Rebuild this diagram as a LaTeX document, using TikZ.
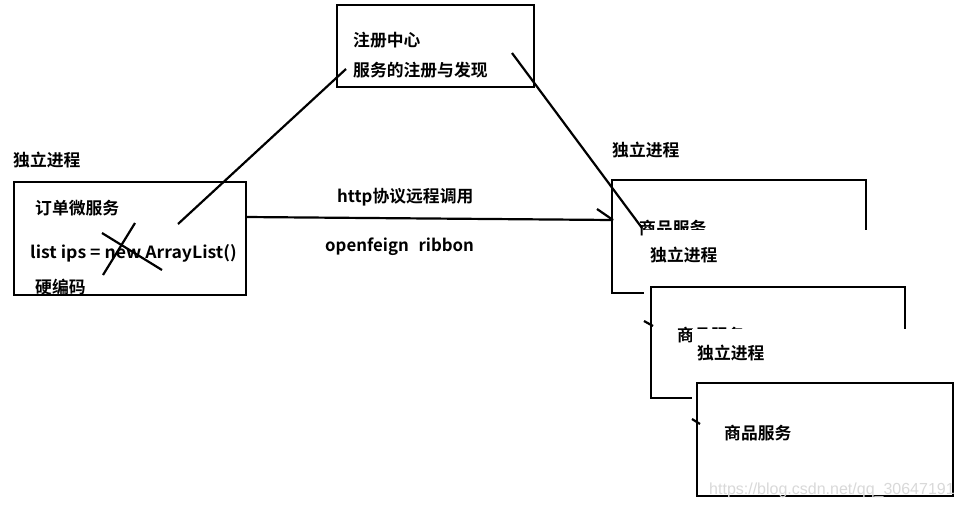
\documentclass[tikz,border=0pt]{standalone}
\usepackage{fontspec}
\setmainfont{Noto Sans CJK SC}[BoldFont={Noto Sans CJK SC Bold}]
\newfontfamily\wmfont{Liberation Sans}
\begin{document}
\begin{tikzpicture}[x=1pt,y=-1pt,
  pen/.style={line width=2.2pt},
  boxnode/.style={draw,line width=2.2pt,inner sep=0pt,outer sep=0pt},
  txt/.style={anchor=west,inner sep=0pt,font=\fontsize{16.8}{18}\selectfont\bfseries},
  paste/.style={fill=white,draw=none}]
\useasboundingbox[fill=white] (0,0) rectangle (961,507);
% registry
\node[boxnode,minimum width=197pt,minimum height=82pt] (reg) at (435.5,46) {};
\node[txt] (regt1) at (353,40) {注册中心};
\node[txt] (regt2) at (353,70) {服务的注册与发现};
% order service
\node[txt] (lbl0) at (13,160) {独立进程};
\node[boxnode,minimum width=232pt,minimum height=113pt] (order) at (130,238.5) {};
\node[txt] (ordt1) at (35,208) {订单微服务};
\node[txt] (ordt2) at (30,253) {\scalebox{1.05}[1]{list ips = new ArrayList()}};
\node[txt] (ordt3) at (35,287) {硬编码};
\coordinate (xa1) at (102,233); \coordinate (xa2) at (162,270);
\coordinate (xb1) at (135,223); \coordinate (xb2) at (103,275);
\draw[pen] (xa1) -- (xa2);
\draw[pen] (xb1) -- (xb2);
% call arrow
\coordinate (a0) at (246,217); \coordinate (a1) at (613,220); \coordinate (ah) at (597,209);
\draw[pen] (a0) -- (a1);
\draw[pen] (ah) -- (a1);
\node[txt] (http) at (337,197) {http协议远程调用};
\node[txt] (feign) at (325,247) {openfeign\hspace{6pt} ribbon};
% product 1
\node[txt] (lbl1) at (612,150) {独立进程};
\node[boxnode,minimum width=254pt,minimum height=113pt] (p1) at (739,236.5) {};
\node[txt] (p1t) at (639,228) {商品服务};
% pasted copy 2
\fill[paste] (644,230) rectangle (961,405);
\node[txt] (lbl2) at (650,255) {独立进程};
\node[boxnode,minimum width=254pt,minimum height=111pt] (p2) at (778,342.5) {};
\coordinate (t2a) at (644,321); \coordinate (t2b) at (653,326);
\draw[pen] (t2a) -- (t2b);
\node[txt] (p2t) at (677,335) {商品服务};
% pasted copy 3
\fill[paste] (692,329) rectangle (961,507);
\node[txt] (lbl3) at (697,353) {独立进程};
\node[boxnode,minimum width=256pt,minimum height=113pt] (p3) at (825,439.5) {};
\coordinate (t3a) at (692,419); \coordinate (t3b) at (700,424);
\draw[pen] (t3a) -- (t3b);
\node[txt] (p3t) at (724,433) {商品服务};
\node[anchor=west,inner sep=0pt,font=\wmfont\fontsize{16}{18}\selectfont,text=black!15] (wm) at (709,490) {https://blog.csdn.net/qq\_30647191};
% registry links
\coordinate (r1) at (178,224); \coordinate (r2) at (346,69);
\draw[pen] (r1) -- (r2);
\coordinate (s1) at (512,53); \coordinate (s2) at (642,228);
\draw[pen] (s1) -- (s2);
\end{tikzpicture}
\end{document}
